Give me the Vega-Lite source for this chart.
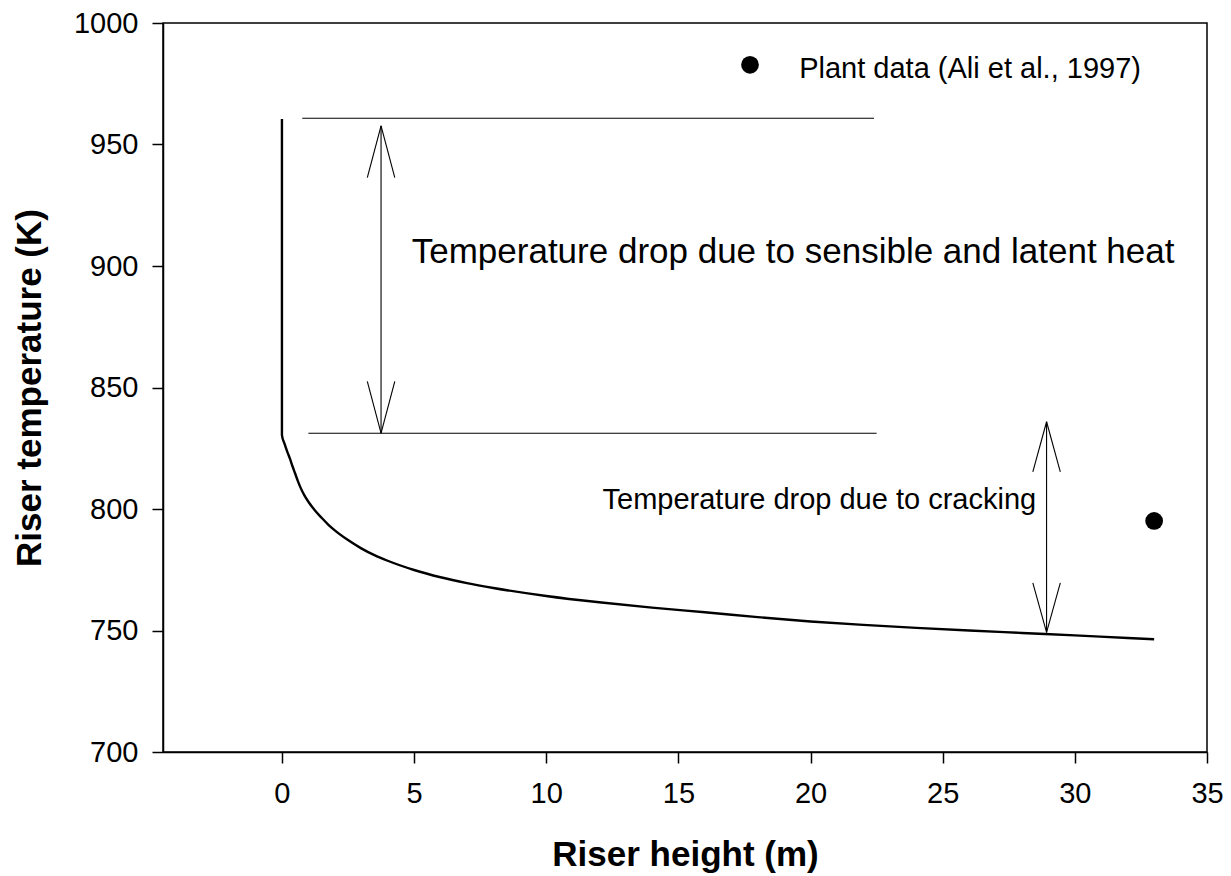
{
  "$schema": "https://vega.github.io/schema/vega-lite/v6.json",
  "width": 1044,
  "height": 729,
  "autosize": "none",
  "padding": {"left": 163, "top": 23, "right": 24, "bottom": 124},
  "background": "white",
  "config": {
    "font": "Liberation Sans",
    "view": {"stroke": "black", "strokeWidth": 1.5}
  },
  "datasets": {
    "curve": [
      {"order": 0, "height": 0, "temperature": 960.5},
      {"order": 1, "height": 0, "temperature": 830.4},
      {"order": 2, "height": 0.1, "temperature": 826.8},
      {"order": 3, "height": 0.2, "temperature": 823.6},
      {"order": 4, "height": 0.3, "temperature": 820.8},
      {"order": 5, "height": 0.4, "temperature": 817.6},
      {"order": 6, "height": 0.5, "temperature": 814.6},
      {"order": 7, "height": 0.6, "temperature": 811.6},
      {"order": 8, "height": 0.7, "temperature": 808.9},
      {"order": 9, "height": 0.85, "temperature": 805.6},
      {"order": 10, "height": 1.0, "temperature": 803.0},
      {"order": 11, "height": 1.25, "temperature": 799.4},
      {"order": 12, "height": 1.5, "temperature": 796.4},
      {"order": 13, "height": 1.75, "temperature": 793.6},
      {"order": 14, "height": 2.0, "temperature": 791.2},
      {"order": 15, "height": 2.5, "temperature": 787.2},
      {"order": 16, "height": 3.0, "temperature": 783.8},
      {"order": 17, "height": 3.5, "temperature": 781.0},
      {"order": 18, "height": 4.0, "temperature": 778.7},
      {"order": 19, "height": 5.0, "temperature": 774.9},
      {"order": 20, "height": 6.0, "temperature": 771.9},
      {"order": 21, "height": 7.0, "temperature": 769.5},
      {"order": 22, "height": 8.0, "temperature": 767.5},
      {"order": 23, "height": 10.0, "temperature": 764.2},
      {"order": 24, "height": 12.0, "temperature": 761.6},
      {"order": 25, "height": 14.0, "temperature": 759.4},
      {"order": 26, "height": 16.0, "temperature": 757.5},
      {"order": 27, "height": 18.0, "temperature": 755.5},
      {"order": 28, "height": 20.0, "temperature": 753.7},
      {"order": 29, "height": 22.0, "temperature": 752.3},
      {"order": 30, "height": 24.0, "temperature": 751.1},
      {"order": 31, "height": 26.0, "temperature": 750.0},
      {"order": 32, "height": 28.0, "temperature": 749.0},
      {"order": 33, "height": 30.0, "temperature": 748.0},
      {"order": 34, "height": 32.0, "temperature": 746.9},
      {"order": 35, "height": 33.0, "temperature": 746.4}
    ],
    "segments": [
      {"part": "upper line", "height": 0.77, "temperature": 960.8, "height2": 22.4, "temperature2": 960.8},
      {"part": "lower line", "height": 1.0, "temperature": 831.2, "height2": 22.5, "temperature2": 831.2},
      {"part": "arrow 1 shaft", "height": 3.75, "temperature": 957.7, "height2": 3.75, "temperature2": 831.2},
      {"part": "arrow 1 head", "height": 3.75, "temperature": 957.7, "height2": 3.23, "temperature2": 936.4},
      {"part": "arrow 1 head", "height": 3.75, "temperature": 957.7, "height2": 4.27, "temperature2": 936.4},
      {"part": "arrow 1 tail", "height": 3.75, "temperature": 831.2, "height2": 3.23, "temperature2": 852.5},
      {"part": "arrow 1 tail", "height": 3.75, "temperature": 831.2, "height2": 4.27, "temperature2": 852.5},
      {"part": "arrow 2 shaft", "height": 28.93, "temperature": 835.9, "height2": 28.93, "temperature2": 749.2},
      {"part": "arrow 2 head", "height": 28.93, "temperature": 835.9, "height2": 28.41, "temperature2": 815.3},
      {"part": "arrow 2 head", "height": 28.93, "temperature": 835.9, "height2": 29.45, "temperature2": 815.3},
      {"part": "arrow 2 tail", "height": 28.93, "temperature": 749.2, "height2": 28.41, "temperature2": 769.6},
      {"part": "arrow 2 tail", "height": 28.93, "temperature": 749.2, "height2": 29.45, "temperature2": 769.6}
    ],
    "points": [
      {"series": "Plant data (Ali et al., 1997)", "height": 33.0, "temperature": 795.1},
      {"series": "legend symbol", "height": 17.71, "temperature": 982.8}
    ],
    "bigText": [
      {"label": "Temperature drop due to sensible and latent heat", "height": 4.91, "temperature": 901.4}
    ],
    "smallText": [
      {"label": "Temperature drop due to cracking", "height": 12.13, "temperature": 799.8},
      {"label": "Plant data (Ali et al., 1997)", "height": 19.57, "temperature": 977.3}
    ]
  },
  "layer": [
    {
      "data": {"name": "curve"},
      "mark": {"type": "line", "color": "black", "strokeWidth": 2.4, "interpolate": "monotone"},
      "encoding": {
        "x": {
          "field": "height", "type": "quantitative",
          "scale": {"domain": [-4.5, 35], "nice": false, "zero": false},
          "title": "Riser height (m)",
          "axis": {
            "values": [0, 5, 10, 15, 20, 25, 30, 35],
            "format": "d",
            "grid": false,
            "tickSize": 11, "tickWidth": 1.5, "tickColor": "black",
            "domainWidth": 1.5, "domainColor": "black",
            "labelFontSize": 29, "labelColor": "black", "labelPadding": 16,
            "labelFlush": false, "labelOverlap": false,
            "titleFontSize": 35, "titleFontWeight": "bold", "titleColor": "black",
            "titleY": 113, "titleBaseline": "alphabetic"
          }
        },
        "y": {
          "field": "temperature", "type": "quantitative",
          "scale": {"domain": [700, 1000], "nice": false, "zero": false},
          "title": "Riser temperature (K)",
          "axis": {
            "values": [700, 750, 800, 850, 900, 950, 1000],
            "format": "d",
            "grid": false,
            "tickSize": 11, "tickWidth": 1.5, "tickColor": "black",
            "domainWidth": 1.5, "domainColor": "black",
            "labelFontSize": 29, "labelColor": "black", "labelPadding": 14,
            "labelFlush": false, "labelOverlap": false,
            "titleFontSize": 35, "titleFontWeight": "bold", "titleColor": "black",
            "titleAngle": 270, "titleX": -123, "titleY": 364.5,
            "titleBaseline": "alphabetic", "titleAlign": "center"
          }
        },
        "order": {"field": "order", "type": "quantitative"}
      }
    },
    {
      "data": {"name": "segments"},
      "mark": {"type": "rule", "color": "black", "strokeWidth": 1.1},
      "encoding": {
        "x": {"field": "height", "type": "quantitative", "title": "Riser height (m)"},
        "y": {"field": "temperature", "type": "quantitative", "title": "Riser temperature (K)"},
        "x2": {"field": "height2"},
        "y2": {"field": "temperature2"}
      }
    },
    {
      "data": {"name": "points"},
      "mark": {"type": "point", "shape": "circle", "filled": true, "color": "black", "opacity": 1, "size": 314},
      "encoding": {
        "x": {"field": "height", "type": "quantitative", "title": "Riser height (m)"},
        "y": {"field": "temperature", "type": "quantitative", "title": "Riser temperature (K)"}
      }
    },
    {
      "data": {"name": "bigText"},
      "mark": {"type": "text", "fontSize": 35, "align": "left", "baseline": "alphabetic", "color": "black"},
      "encoding": {
        "x": {"field": "height", "type": "quantitative", "title": "Riser height (m)"},
        "y": {"field": "temperature", "type": "quantitative", "title": "Riser temperature (K)"},
        "text": {"field": "label"}
      }
    },
    {
      "data": {"name": "smallText"},
      "mark": {"type": "text", "fontSize": 29, "align": "left", "baseline": "alphabetic", "color": "black"},
      "encoding": {
        "x": {"field": "height", "type": "quantitative", "title": "Riser height (m)"},
        "y": {"field": "temperature", "type": "quantitative", "title": "Riser temperature (K)"},
        "text": {"field": "label"}
      }
    }
  ]
}
